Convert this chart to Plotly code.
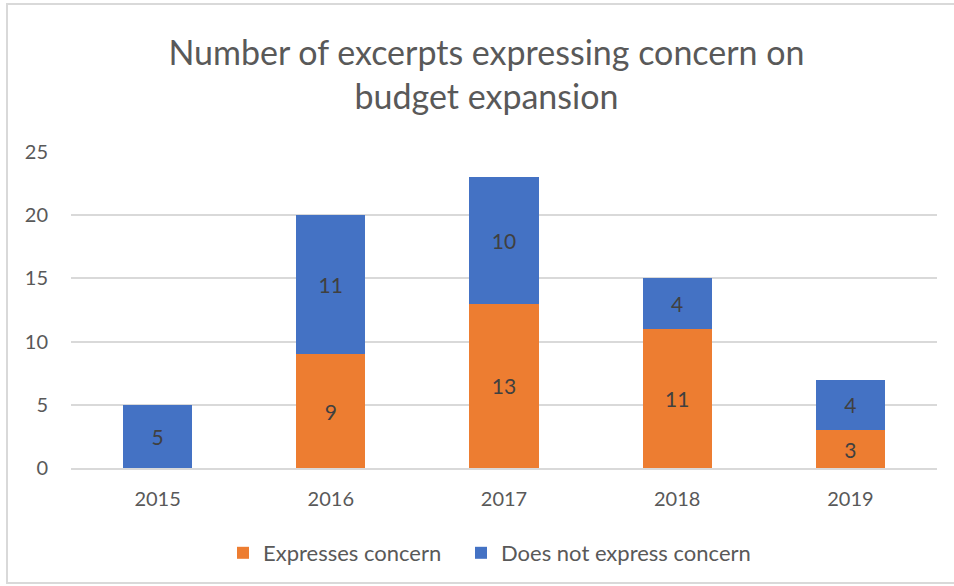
import plotly.graph_objects as go

years = ["2015", "2016", "2017", "2018", "2019"]
expresses = [0, 9, 13, 11, 3]
does_not = [5, 11, 10, 4, 4]
series_names = ["Expresses concern", "Does not express concern"]
y_ticks = [0, 5, 10, 15, 20, 25]

ORANGE = "#ED7D31"
BLUE = "#4472C4"
FONT = "Lato"

def labels(vals):
    return [str(v) if v else "" for v in vals]

fig = go.Figure()
for name, vals, col, lg in [(series_names[0], expresses, ORANGE, "legend"),
                            (series_names[1], does_not, BLUE, "legend2")]:
    fig.add_trace(go.Bar(
        x=years, y=vals, name=name, marker=dict(color=col, line=dict(width=0)),
        text=labels(vals), textposition="inside", insidetextanchor="middle",
        textangle=0, constraintext="none", legend=lg,
        textfont=dict(family=FONT, size=21, color="#404040"),
    ))

L, R, T, B = 71, 937, 152, 468
W, H = 954, 586
pw, ph = R - L, B - T

def px_x(p):
    return (p - L) / pw

def px_y(p):
    return (B - p) / ph

legend_common = dict(orientation="h", xanchor="left", y=px_y(553), yanchor="middle",
                     font=dict(family=FONT, size=22, color="#595959"),
                     itemwidth=30, bgcolor="rgba(0,0,0,0)")

fig.update_layout(
    width=W, height=H,
    margin=dict(l=L, r=W - R, t=T, b=H - B, autoexpand=False),
    barmode="stack", bargap=0.6,
    plot_bgcolor="white", paper_bgcolor="white",
    title=dict(text="Number of excerpts expressing concern on<br>budget expansion",
               x=486.5 / W, xanchor="center", y=1 - 65 / H, yanchor="middle",
               font=dict(family=FONT, size=34, color="#595959")),
    font=dict(family=FONT, color="#595959"),
    showlegend=True,
    legend=dict(x=px_x(223), **legend_common),
    legend2=dict(x=px_x(461), **legend_common),
    xaxis=dict(showgrid=False, showline=True, linecolor="#D9D9D9", linewidth=1.5,
               tickfont=dict(family=FONT, size=20, color="#595959"), ticks="",
               ticklabelstandoff=12, fixedrange=True),
    yaxis=dict(range=[0, 25], tickvals=y_ticks, showgrid=True, gridcolor="#D9D9D9", gridwidth=1.5,
               zeroline=False, showline=False,
               tickfont=dict(family=FONT, size=20, color="#595959"), ticks="",
               ticklabelstandoff=22, fixedrange=True),
    shapes=[dict(type="rect", xref="paper", yref="paper",
                 x0=px_x(7), x1=px_x(960), y0=px_y(583), y1=px_y(4),
                 line=dict(color="#D9D9D9", width=2), fillcolor="rgba(0,0,0,0)", layer="below")],
)

fig.write_html("out.html")
